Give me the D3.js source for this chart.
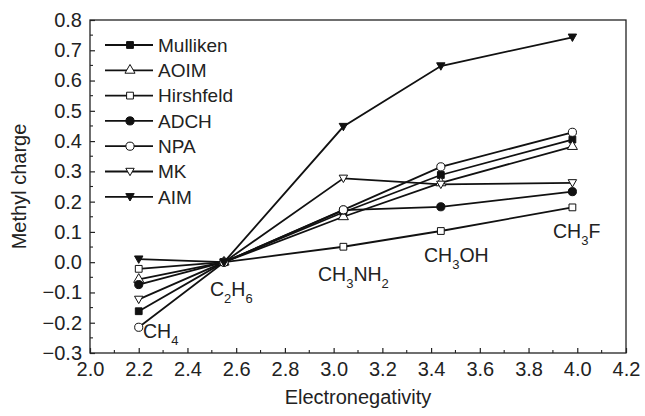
<!DOCTYPE html>
<html><head><meta charset="utf-8">
<script src="https://cdn.jsdelivr.net/npm/d3@7"></script>
<style>body{margin:0;background:#fff}text{font-family:"Liberation Sans",Arial,sans-serif;fill:#222}</style>
</head><body><svg id="c" width="645" height="416"></svg>
<script>
const electroneg = [2.2, 2.55, 3.04, 3.44, 3.98];
const molecules = ["CH4", "C2H6", "CH3NH2", "CH3OH", "CH3F"];
const seriesNames = ["Mulliken", "AOIM", "Hirshfeld", "ADCH", "NPA", "MK", "AIM"];
const mulliken = [-0.162, 0, 0.165, 0.288, 0.405];
const aoim = [-0.057, 0, 0.15, 0.262, 0.382];
const hirshfeld = [-0.022, 0, 0.051, 0.103, 0.181];
const adch = [-0.074, 0, 0.172, 0.183, 0.233];
const npa = [-0.215, 0, 0.173, 0.315, 0.429];
const mk = [-0.123, 0, 0.277, 0.257, 0.262];
const aim = [0.01, 0, 0.448, 0.648, 0.743];
const xTicks = [2.0, 2.2, 2.4, 2.6, 2.8, 3.0, 3.2, 3.4, 3.6, 3.8, 4.0, 4.2];
const yTicks = [-0.3, -0.2, -0.1, 0.0, 0.1, 0.2, 0.3, 0.4, 0.5, 0.6, 0.7, 0.8];

const allValues = [mulliken, aoim, hirshfeld, adch, npa, mk, aim];
const markers = ["sq", "tri", "sq", "circ", "circ", "tridown", "tridown"];
const filled = [true, false, false, true, false, false, true];

const svg = d3.select("#c");
const L = 90, R = 626, T = 20, B = 353;
const x = d3.scaleLinear().domain([2.0, 4.2]).range([L, R]);
const y = d3.scaleLinear().domain([-0.3, 0.8]).range([B, T]);

svg.append("rect").attr("x", L).attr("y", T).attr("width", R - L).attr("height", B - T)
  .attr("fill", "none").attr("stroke", "#222").attr("stroke-width", 1.3);

const xAxis = d3.axisBottom(x).tickValues(xTicks).tickFormat(d3.format(".1f")).tickSizeInner(-5).tickSizeOuter(0).tickPadding(9);
const gx = svg.append("g").attr("transform", `translate(0,${B})`).call(xAxis);
const yAxis = d3.axisLeft(y).tickValues(yTicks).tickFormat(d3.format(".1f")).tickSizeInner(-5).tickSizeOuter(0).tickPadding(8);
const gy = svg.append("g").attr("transform", `translate(${L},0)`).call(yAxis);
[gx, gy].forEach(g => {
  g.select(".domain").remove();
  g.selectAll("line").attr("stroke", "#222").attr("stroke-width", 1.2);
  g.selectAll("text").attr("font-size", 20).attr("fill", "#222");
});
gy.selectAll("text").text(d => d < 0 ? "\u2212" + Math.abs(d).toFixed(1) : d.toFixed(1));
const xMinor = d3.range(2.1, 4.2, 0.2);
svg.append("g").selectAll("line").data(xMinor).join("line")
  .attr("x1", d => x(d)).attr("x2", d => x(d)).attr("y1", B).attr("y2", B - 3)
  .attr("stroke", "#222").attr("stroke-width", 1.1);
const yMinor = d3.range(-0.25, 0.8, 0.1);
svg.append("g").selectAll("line").data(yMinor).join("line")
  .attr("y1", d => y(d)).attr("y2", d => y(d)).attr("x1", L).attr("x2", L + 3)
  .attr("stroke", "#222").attr("stroke-width", 1.1);

svg.append("text").attr("x", (L + R) / 2).attr("y", 404).attr("text-anchor", "middle")
  .attr("font-size", 20).text("Electronegativity");
svg.append("text").attr("transform", `translate(26,${(T + B) / 2}) rotate(-90)`).attr("text-anchor", "middle")
  .attr("font-size", 20).text("Methyl charge");

function symbolPath(type) {
  if (type === "sq") return d3.symbol(d3.symbolSquare, 46)();
  if (type === "circ") return d3.symbol(d3.symbolCircle, 52)();
  if (type === "tri") return d3.symbol(d3.symbolTriangle, 44)();
  return "M-4.2,-3.2L4.2,-3.2L0,4.2Z";
}

const line = d3.line().x((d, i) => x(electroneg[i])).y(d => y(d));
const plot = svg.append("g");
allValues.forEach((vals) => {
  plot.append("path").datum(vals).attr("d", line).attr("fill", "none")
    .attr("stroke", "#111").attr("stroke-width", 1.8);
});
allValues.forEach((vals, k) => {
  plot.append("g").selectAll("path").data(vals).join("path")
    .attr("transform", (d, i) => `translate(${x(electroneg[i])},${y(d)})`)
    .attr("d", symbolPath(markers[k]))
    .attr("fill", filled[k] ? "#111" : "#fff").attr("stroke", "#111").attr("stroke-width", 1);
});

const lg = svg.append("g");
seriesNames.forEach((name, k) => {
  const yy = 45 + k * 25.3;
  lg.append("line").attr("x1", 105).attr("x2", 153).attr("y1", yy).attr("y2", yy)
    .attr("stroke", "#111").attr("stroke-width", 1.8);
  lg.append("path").attr("transform", `translate(130,${yy})`).attr("d", symbolPath(markers[k]))
    .attr("fill", filled[k] ? "#111" : "#fff").attr("stroke", "#111").attr("stroke-width", 1);
  lg.append("text").attr("x", 158).attr("y", yy + 6.8).attr("font-size", 19).text(name);
});

const labelPos = [[143, 338], [210, 296], [318, 281], [424, 262], [553, 238]];
function addFormula(str, px, py) {
  const t = svg.append("text").attr("x", px).attr("y", py).attr("font-size", 19.5);
  const parts = str.match(/[A-Za-z]+|\d+/g);
  let sub = false;
  parts.forEach(p => {
    if (/\d/.test(p)) {
      t.append("tspan").attr("font-size", 13).attr("dy", 7).text(p);
      sub = true;
    } else {
      t.append("tspan").attr("dy", sub ? -7 : 0).text(p);
      sub = false;
    }
  });
}
molecules.forEach((m, i) => addFormula(m, labelPos[i][0], labelPos[i][1]));
</script></body></html>
